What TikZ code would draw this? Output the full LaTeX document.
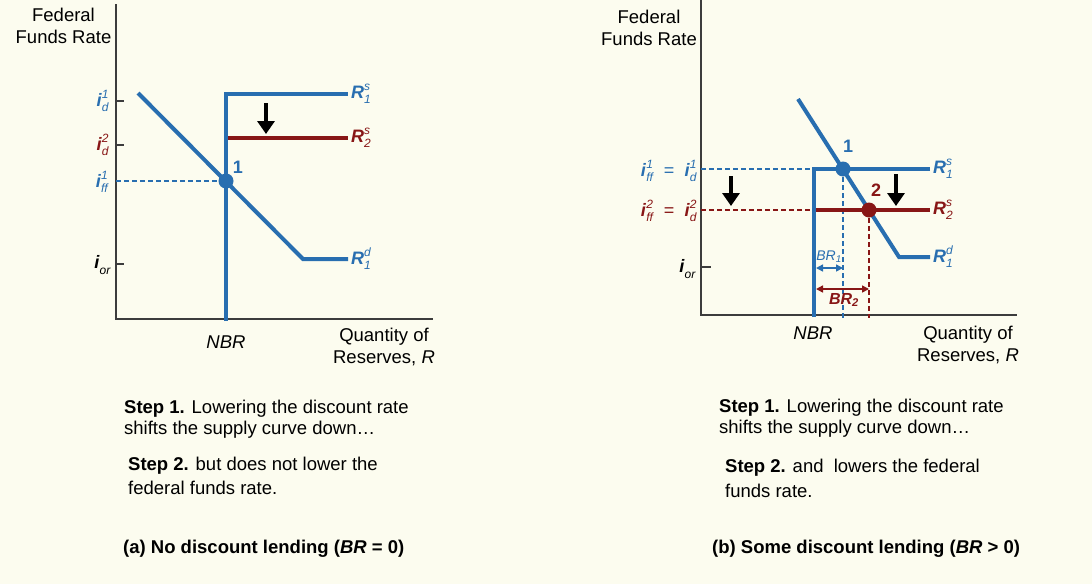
\documentclass[tikz,border=0pt]{standalone}
\usepackage{fontspec}
\setmainfont{Liberation Sans}
\usetikzlibrary{arrows.meta}

\definecolor{fedblue}{RGB}{40,110,176}
\definecolor{fedred}{RGB}{136,22,22}
\definecolor{paper}{RGB}{252,252,239}
\definecolor{axisgray}{RGB}{60,60,60}

% symbol with superscript #2 and subscript #3
\newcommand{\ffsym}[3]{\textbf{\textit{#1}}\rlap{\raisebox{0.42em}{\fontsize{12}{12}\selectfont\textit{#2}}}\raisebox{-0.3em}{\fontsize{12}{12}\selectfont\textit{#3}}}

\begin{document}
\begin{tikzpicture}[x=1pt,y=-1pt,font=\fontsize{18.5}{22}\selectfont,
	axis/.style={line width=1.4pt,axisgray},
	curve/.style={line width=4pt,fedblue},
	curvetwo/.style={line width=4pt,fedred},
	guide/.style={line width=1.5pt,dash pattern=on 5pt off 3pt},
	downarrow/.style={line width=4.5pt,black,-{Triangle[width=17pt,length=13pt]}},
	brarrow/.style={line width=1.5pt,{Triangle[width=7pt,length=7pt]}-{Triangle[width=7pt,length=7pt]}},
	lbl/.style={font=\fontsize{18}{18}\selectfont,inner sep=1pt},
	numlbl/.style={font=\bfseries\fontsize{18}{18}\selectfont,inner sep=0pt},
	steptext/.style={anchor=north west,align=left,inner sep=0pt,font=\fontsize{18.5}{21}\selectfont}]
	\fill[paper] (0,0) rectangle (1092,584);
	\useasboundingbox (0,0) rectangle (1092,584);

	% (a) no discount lending
	\coordinate (aY) at (116,4);
	\coordinate (aO) at (116,319);
	\coordinate (aX) at (433,319);
	\draw[axis] (aY) -- (aO) -- (aX);
	\node[align=center,inner sep=0pt] (aTitleY) at (63.5,26) {Federal\\Funds Rate};
	\node[align=center,inner sep=0pt] (aTitleX) at (384,347) {Quantity of\\Reserves, \textit{R}};
	\node[inner sep=0pt] (aNBRlabel) at (226,342) {\textit{NBR}};

	\coordinate (aNBR) at (226,321);
	\coordinate (aK) at (226,94);
	\coordinate (aS1) at (348,94);
	\coordinate (aS2a) at (228,138);
	\coordinate (aS2b) at (348,138);
	\coordinate (aD0) at (138,93);
	\coordinate (aD1) at (303,259);
	\coordinate (aD2) at (348,259);
	\coordinate (aE1) at (226,181);

	\draw[guide,fedblue] (aO |- aE1) -- (aE1);
	\draw[curve,line join=miter] (aNBR) -- (aK) -- (aS1);
	\draw[curvetwo] (aS2a) -- (aS2b);
	\draw[curve] (aD0) -- (aD1) -- (aD2);
	\fill[fedblue] (aE1) circle[radius=7.5pt];
	\node[numlbl,fedblue] (aOne) at (238,167) {1};
	\draw[downarrow] (266,103) -- (266,134);

	\node[lbl,fedblue,anchor=west] (aRs1) at (350,94) {\ffsym{R}{s}{1}};
	\node[lbl,fedred,anchor=west] (aRs2) at (350,138) {\ffsym{R}{s}{2}};
	\node[lbl,fedblue,anchor=west] (aRd1) at (350,259) {\ffsym{R}{d}{1}};

	\draw[axis] (116,101) -- (124,101);
	\draw[axis] (116,145) -- (124,145);
	\draw[axis] (116,264) -- (124,264);
	\node[lbl,fedblue,anchor=east] (aId1) at (110,101) {\ffsym{i}{1}{d}};
	\node[lbl,fedred,anchor=east] (aId2) at (110,145) {\ffsym{i}{2}{d}};
	\node[lbl,fedblue,anchor=east] (aIff1) at (110,182) {\ffsym{i}{1}{ff}};
	\node[lbl,black,anchor=east] (aIor) at (112,265) {\ffsym{i}{}{or}};

	\node[steptext] (aStep1) at (124,400) {\textbf{Step 1.} Lowering the discount rate\\shifts the supply curve down\dots};
	\node[steptext,font=\fontsize{18.5}{24}\selectfont] (aStep2) at (128,457) {\textbf{Step 2.} but does not lower the\\federal funds rate.};
	\node[anchor=west,inner sep=0pt,font=\bfseries\fontsize{18.5}{20}\selectfont] (aCap) at (123,549) {(a) No discount lending (\textit{BR} = 0)};

	% (b) some discount lending
	\coordinate (bY) at (701,0);
	\coordinate (bO) at (701,315);
	\coordinate (bX) at (1017,315);
	\draw[axis] (bY) -- (bO) -- (bX);
	\node[align=center,inner sep=0pt] (bTitleY) at (649,28) {Federal\\Funds Rate};
	\node[align=center,inner sep=0pt] (bTitleX) at (968,345) {Quantity of\\Reserves, \textit{R}};
	\node[inner sep=0pt] (bNBRlabel) at (813,333) {\textit{NBR}};

	\coordinate (bNBR) at (814,317);
	\coordinate (bK) at (814,169);
	\coordinate (bS1) at (930,169);
	\coordinate (bS2a) at (816,210);
	\coordinate (bS2b) at (930,210);
	\coordinate (bD0) at (798,99);
	\coordinate (bD1) at (899,257);
	\coordinate (bD2) at (930,257);
	\coordinate (bE1) at (843,169);
	\coordinate (bE2) at (869,210);

	\draw[guide,fedblue] (bO |- bE1) -- (bK);
	\draw[guide,fedred] (bO |- bE2) -- (bS2a);
	\draw[guide,fedblue] (bE1) -- (843,318);
	\draw[guide,fedred] (bE2) -- (869,318);
	\draw[curve,line join=miter] (bNBR) -- (bK) -- (bS1);
	\draw[curvetwo] (bS2a) -- (bS2b);
	\draw[curve] (bD0) -- (bD1) -- (bD2);
	\fill[fedblue] (bE1) circle[radius=7.5pt];
	\fill[fedred] (bE2) circle[radius=7.5pt];
	\node[numlbl,fedblue] (bOne) at (848,146) {1};
	\node[numlbl,fedred] (bTwo) at (876,190) {2};
	\draw[downarrow] (731,176) -- (731,206);
	\draw[downarrow] (896,174) -- (896,206);

	\draw[brarrow,fedblue] (816,268) -- (843,268);
	\draw[brarrow,fedred] (816,289) -- (869,289);
	\node[fedblue,font=\itshape\fontsize{14}{14}\selectfont,inner sep=0pt] (bBR1) at (829,257) {BR\textsubscript{1}};
	\node[fedred,font=\bfseries\itshape\fontsize{16}{16}\selectfont,inner sep=0pt] (bBR2) at (844,300) {BR\textsubscript{2}};

	\node[lbl,fedblue,anchor=west] (bRs1) at (932,169) {\ffsym{R}{s}{1}};
	\node[lbl,fedred,anchor=west] (bRs2) at (932,210) {\ffsym{R}{s}{2}};
	\node[lbl,fedblue,anchor=west] (bRd1) at (932,257) {\ffsym{R}{d}{1}};

	\draw[axis] (701,267) -- (711,267);
	\node[lbl,fedblue,anchor=east] (bI1) at (698,171) {\ffsym{i}{1}{ff}\ \ =\ \ \ffsym{i}{1}{d}};
	\node[lbl,fedred,anchor=east] (bI2) at (698,211) {\ffsym{i}{2}{ff}\ \ =\ \ \ffsym{i}{2}{d}};
	\node[lbl,black,anchor=east] (bIor) at (697,269) {\ffsym{i}{}{or}};

	\node[steptext] (bStep1) at (719,399) {\textbf{Step 1.} Lowering the discount rate\\shifts the supply curve down\dots};
	\node[steptext,font=\fontsize{18.5}{25}\selectfont] (bStep2) at (725,459) {\textbf{Step 2.} and\ \ lowers the federal\\funds rate.};
	\node[anchor=west,inner sep=0pt,font=\bfseries\fontsize{18.5}{20}\selectfont] (bCap) at (712,549) {(b) Some discount lending (\textit{BR} > 0)};
\end{tikzpicture}
\end{document}
